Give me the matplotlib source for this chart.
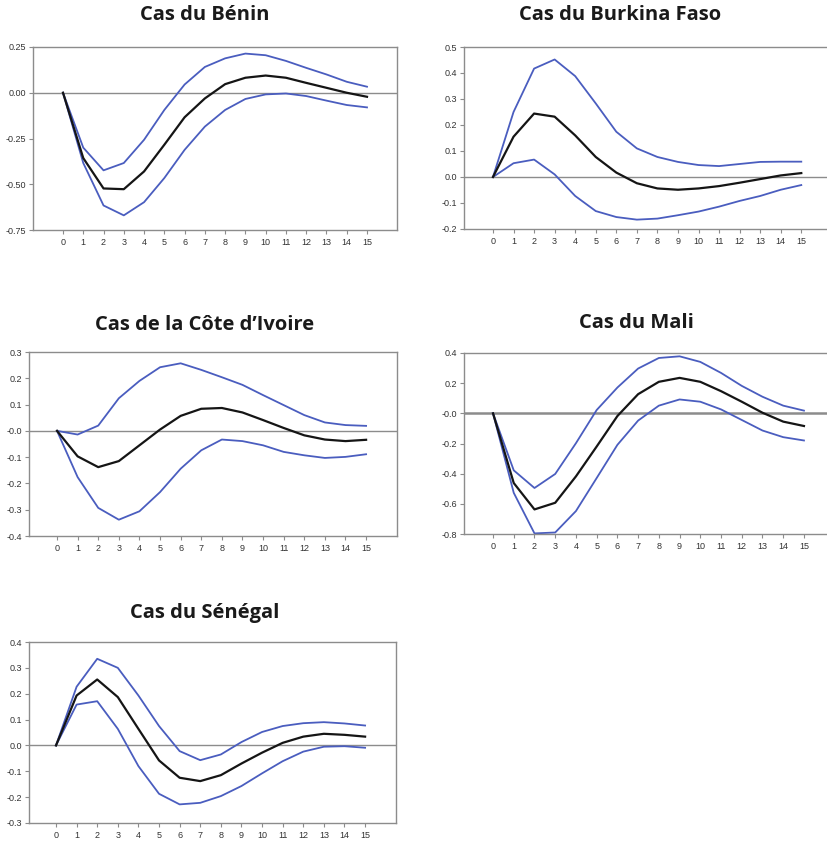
import numpy as np
import matplotlib.pyplot as plt

# --- données ---
horizons = list(range(16))

benin_mid = [0, -0.357, -0.523, -0.527, -0.43, -0.284, -0.134, -0.031, 0.047, 0.082, 0.094, 0.082, 0.054, 0.027, 0.0, -0.022]
benin_hi = [0, -0.30, -0.424, -0.384, -0.257, -0.094, 0.045, 0.141, 0.188, 0.214, 0.205, 0.174, 0.136, 0.10, 0.06, 0.033]
benin_lo = [0, -0.384, -0.616, -0.67, -0.598, -0.466, -0.312, -0.185, -0.094, -0.034, -0.009, -0.004, -0.018, -0.043, -0.067, -0.08]

burkina_mid = [0, 0.155, 0.244, 0.232, 0.16, 0.077, 0.017, -0.024, -0.044, -0.049, -0.044, -0.035, -0.022, -0.008, 0.006, 0.015]
burkina_hi = [0, 0.25, 0.417, 0.452, 0.388, 0.283, 0.174, 0.11, 0.077, 0.058, 0.046, 0.042, 0.05, 0.058, 0.059, 0.059]
burkina_lo = [0, 0.053, 0.067, 0.01, -0.073, -0.131, -0.154, -0.164, -0.16, -0.147, -0.133, -0.114, -0.092, -0.073, -0.049, -0.031]

civ_mid = [0, -0.097, -0.138, -0.115, -0.055, 0.005, 0.057, 0.084, 0.087, 0.07, 0.041, 0.011, -0.017, -0.033, -0.039, -0.034]
civ_hi = [0, -0.014, 0.02, 0.124, 0.19, 0.242, 0.257, 0.232, 0.204, 0.175, 0.136, 0.098, 0.06, 0.032, 0.022, 0.019]
civ_lo = [0, -0.176, -0.293, -0.338, -0.306, -0.233, -0.144, -0.074, -0.033, -0.039, -0.055, -0.08, -0.093, -0.103, -0.099, -0.089]

mali_mid = [0, -0.462, -0.637, -0.593, -0.418, -0.22, -0.018, 0.127, 0.209, 0.235, 0.209, 0.147, 0.077, 0.004, -0.055, -0.084]
mali_hi = [0, -0.378, -0.495, -0.402, -0.198, 0.022, 0.171, 0.297, 0.367, 0.378, 0.341, 0.268, 0.182, 0.11, 0.051, 0.018]
mali_lo = [0, -0.527, -0.796, -0.79, -0.648, -0.429, -0.209, -0.048, 0.051, 0.092, 0.077, 0.026, -0.044, -0.114, -0.158, -0.18]

senegal_mid = [0, 0.193, 0.255, 0.187, 0.064, -0.058, -0.125, -0.138, -0.115, -0.07, -0.028, 0.01, 0.034, 0.045, 0.041, 0.034]
senegal_hi = [0, 0.227, 0.335, 0.30, 0.193, 0.075, -0.022, -0.057, -0.035, 0.013, 0.052, 0.075, 0.086, 0.09, 0.085, 0.077]
senegal_lo = [0, 0.158, 0.171, 0.064, -0.08, -0.187, -0.228, -0.222, -0.196, -0.157, -0.108, -0.061, -0.024, -0.005, -0.003, -0.009]

titles = ["Cas du Bénin", "Cas du Burkina Faso", "Cas de la Côte d\u2019Ivoire", "Cas du Mali", "Cas du Sénégal"]

benin_yticks = [0.25, 0.0, -0.25, -0.5, -0.75]
benin_ylabels = ["0.25", "0.00", "-0.25", "-0.50", "-0.75"]
burkina_yticks = [0.5, 0.4, 0.3, 0.2, 0.1, 0.0, -0.1, -0.2]
burkina_ylabels = ["0.5", "0.4", "0.3", "0.2", "0.1", "0.0", "-0.1", "-0.2"]
civ_yticks = [0.3, 0.2, 0.1, 0.0, -0.1, -0.2, -0.3, -0.4]
civ_ylabels = ["0.3", "0.2", "0.1", "-0.0", "-0.1", "-0.2", "-0.3", "-0.4"]
mali_yticks = [0.4, 0.2, 0.0, -0.2, -0.4, -0.6, -0.8]
mali_ylabels = ["0.4", "0.2", "-0.0", "-0.2", "-0.4", "-0.6", "-0.8"]
senegal_yticks = [0.4, 0.3, 0.2, 0.1, 0.0, -0.1, -0.2, -0.3]
senegal_ylabels = ["0.4", "0.3", "0.2", "0.1", "0.0", "-0.1", "-0.2", "-0.3"]

# --- mise en page (pixels de l'image 828x844) ---
W, H = 828, 844
BLUE = "#4a5dbf"
GREY = "#8c8c8c"

fig = plt.figure(figsize=(W / 100, H / 100), dpi=100)


def make_ax(left, right, top, bottom):
    return fig.add_axes([left / W, 1 - bottom / H, (right - left) / W, (bottom - top) / H])


def panel(ax, mid, hi, lo, yticks, ylabels, xlim, title, title_xy, zero_lw=1.0, cut_right=False):
    ax.axhline(0, color=GREY, lw=zero_lw, zorder=1)
    ax.plot(horizons, hi, color=BLUE, lw=1.3, zorder=2)
    ax.plot(horizons, lo, color=BLUE, lw=1.3, zorder=2)
    ax.plot(horizons, mid, color="#151515", lw=1.6, zorder=3)
    ax.set_xlim(*xlim)
    ax.set_ylim(min(yticks), max(yticks))
    ax.set_xticks(horizons)
    ax.set_xticklabels([str(h) for h in horizons])
    ax.set_yticks(yticks)
    ax.set_yticklabels(ylabels)
    for s in ax.spines.values():
        s.set_color(GREY)
        s.set_linewidth(1.0)
    if cut_right:
        ax.spines["right"].set_visible(False)
    ax.tick_params(axis="both", direction="out", length=3, width=0.8, color=GREY,
                   labelsize=6.5, labelcolor="#333333", pad=2)
    ax.tick_params(axis="x", pad=3)
    for lab in ax.get_xticklabels() + ax.get_yticklabels():
        lab.set_fontfamily("Liberation Sans")
    fig.text(title_xy[0] / W, 1 - title_xy[1] / H, title, ha="center", va="center",
             fontsize=14.5, fontweight="bold", family="Open Sans", color="#1a1a1a")


ax1 = make_ax(33, 397, 47, 230)
panel(ax1, benin_mid, benin_hi, benin_lo, benin_yticks, benin_ylabels, (-1.48, 16.48),
      titles[0], (205, 15))

ax2 = make_ax(464, 828, 47, 229)
panel(ax2, burkina_mid, burkina_hi, burkina_lo, burkina_yticks, burkina_ylabels, (-1.41, 16.3),
      titles[1], (620, 15), cut_right=True)

ax3 = make_ax(29, 397, 352, 536)
panel(ax3, civ_mid, civ_hi, civ_lo, civ_yticks, civ_ylabels, (-1.36, 16.5),
      titles[2], (205, 325))

ax4 = make_ax(464, 828, 353, 534)
panel(ax4, mali_mid, mali_hi, mali_lo, mali_yticks, mali_ylabels, (-1.4, 16.16),
      titles[3], (636, 323), zero_lw=1.8, cut_right=True)

ax5 = make_ax(29, 396, 642, 823)
panel(ax5, senegal_mid, senegal_hi, senegal_lo, senegal_yticks, senegal_ylabels, (-1.31, 16.5),
      titles[4], (205, 613))

fig.savefig("out.png", dpi=100)
